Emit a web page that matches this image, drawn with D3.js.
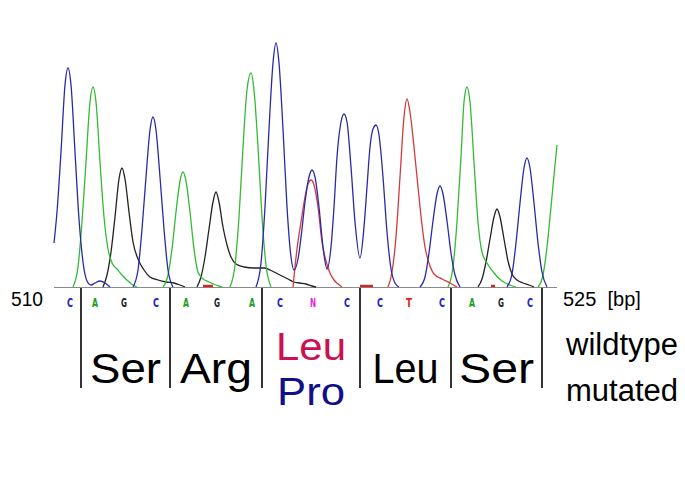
<!DOCTYPE html>
<html>
<head>
<meta charset="utf-8">
<script src="https://cdn.jsdelivr.net/npm/d3@7"></script>
<style>
  html, body { margin: 0; padding: 0; background: #fff; }
</style>
</head>
<body>
<script>
// sequencing trace around position 510-525, wildtype vs mutated codon

// trace channels: [scan, signal] points, one array per peak group
const traceC = [
  [[0,44],[3,75],[7,135],[11,202],[14,219],[17,202],[21,135],[25,68],[29,25],[33,6],[37,2],[41,4],[46,6],[51,4],[56,0]],
  [[79,0],[84,17],[88,58],[92,110],[96,157],[99,170],[102,157],[106,110],[110,58],[114,17],[119,0]],
  [[202,0],[207,24],[211,80],[215,158],[219,224],[222,244],[225,224],[229,158],[233,80],[237,30],[240,17],
   [244,28],[248,58],[251,85],[255,110],[258,117],[261,110],[265,80],[269,40],[273,18],
   [277,40],[280,80],[283,130],[287,165],[290,173],[293,165],[297,120],[301,65],[306,29],
   [310,60],[313,100],[316,140],[319,158],[322,162],[325,152],[329,110],[333,55],[337,18],[341,4],[345,0]],
  [[366,0],[371,10],[375,34],[379,66],[383,93],[386,101],[389,93],[393,66],[397,34],[401,12],[406,0]],
  [[453,0],[458,13],[462,44],[466,84],[470,119],[473,129],[476,119],[480,84],[484,44],[488,15],[493,0]]
];
const traceA = [
  [[19,0],[24,20],[28,65],[32,125],[36,185],[39,200],[42,185],[46,125],[50,70],[54,38],[58,24],[63,18],[68,12],[74,6],[79,2],[83,0]],
  [[109,0],[114,12],[118,38],[122,75],[126,106],[129,115],[132,106],[136,75],[140,38],[144,15],[148,9],[155,5],[162,2],[168,0]],
  [[176,0],[181,22],[185,70],[189,140],[193,197],[197,214],[200,197],[204,140],[208,70],[212,22],[217,0]],
  [[394,0],[399,20],[403,65],[407,130],[410,185],[413,200],[416,185],[420,125],[424,65],[428,35],[433,24],[440,14],[448,6],[456,2],[462,0]],
  [[484,0],[489,12],[493,40],[497,80],[501,122],[503,142]]
];
const traceG = [
  [[49,0],[53,12],[57,35],[61,70],[65,108],[68,119],[71,108],[75,75],[79,45],[84,28],[90,17],[96,10],[104,7],[112,5],[120,4],[126,2],[131,0]],
  [[143,0],[147,10],[151,30],[155,58],[159,85],[162,95],[165,85],[169,60],[173,42],[177,30],[182,23],[190,20],[200,19],[210,19],[216,17],
   [222,14],[228,11],[234,8],[240,5],[246,4],[252,3],[258,1],[262,0]],
  [[424,0],[428,8],[432,25],[436,48],[440,70],[443,78],[446,70],[450,48],[454,26],[458,13],[463,7],[469,4],[475,2],[480,0]]
];
const traceT = [
  [[239,0],[243,38],[247,65],[251,90],[254,103],[257,107],[260,102],[264,80],[268,45],[272,26],[276,14],[280,7],[284,3],[288,0]],
  [[334,0],[338,15],[342,50],[346,110],[350,170],[353,188],[356,175],[360,140],[364,100],[368,62],[371,40],[375,24],[380,13],[388,8],[396,4],[403,0]]
];
// red noise blips lying on the baseline
const noiseT = [[[149,1],[159,1]], [[306,1],[319,1]], [[437,1],[441,1]]];

// base calls
const bases = ["C","A","G","C","A","G","A","C","N","C","C","T","C","A","G","C"];
const baseScan = [16,41,70,102,132,163,198,226,259,293,326,355,388,418,447,476];
const baseColor = {C: "#2222cc", A: "#18a018", G: "#222222", T: "#dd2222", N: "#e020e0"};

// codon boundaries and amino acids
const codonBounds = [27, 116, 208, 306, 397, 488];
const aminoWild = ["Ser", "Arg", "Leu", "Leu", "Ser"];
const aminoMut = [null, null, "Pro", null, null];
const aminoWidth = [71, 72, 70, 66, 75];

const startPos = "510";
const endPos = "525  [bp]";

const width = 685;
const height = 484;

const svg = d3.select("body")
    .append("svg")
    .attr("width", width)
    .attr("height", height)
    .style("display", "block");

svg.append("rect").attr("width", width).attr("height", height).attr("fill", "#fff");

const xScale = d3.scaleLinear()
    .domain([0, 505])
    .range([54, 559]);

const yScale = d3.scaleLinear()
    .domain([0, 250])
    .range([287, 37]);

const line = d3.line()
    .x(d => xScale(d[0]))
    .y(d => yScale(d[1]))
    .curve(d3.curveMonotoneX);

// baseline
svg.append("line")
    .attr("x1", xScale(0)).attr("x2", xScale(503))
    .attr("y1", yScale(0) + 0.5).attr("y2", yScale(0) + 0.5)
    .attr("stroke", "#8a8a8a")
    .attr("stroke-width", 1);

function drawTrace(segs, color, w) {
    svg.append("g").selectAll("path")
        .data(segs)
        .join("path")
        .attr("fill", "none")
        .attr("stroke", color)
        .attr("stroke-width", w)
        .attr("stroke-linejoin", "round")
        .attr("d", line);
}

drawTrace(noiseT, "#cc2a2a", 2.5);
drawTrace(traceG, "#222222", 1.3);
drawTrace(traceA, "#33bb33", 1.3);
drawTrace(traceT, "#d43a3a", 1.3);
drawTrace(traceC, "#2a2aa8", 1.3);

// base letters
svg.append("g").selectAll("text")
    .data(bases)
    .join("text")
    .attr("x", (d, i) => xScale(baseScan[i]))
    .attr("y", 307)
    .attr("text-anchor", "middle")
    .attr("font-family", "'DejaVu Sans Condensed', 'DejaVu Sans', sans-serif")
    .attr("font-weight", "bold")
    .attr("font-size", 13)
    .attr("textLength", 6)
    .attr("lengthAdjust", "spacingAndGlyphs")
    .attr("fill", d => baseColor[d])
    .text(d => d);

// codon separators
svg.append("g").selectAll("line")
    .data(codonBounds)
    .join("line")
    .attr("x1", d => xScale(d)).attr("x2", d => xScale(d))
    .attr("y1", 288).attr("y2", 388)
    .attr("stroke", "#111")
    .attr("stroke-width", 1.7);

// amino acids
const aaMid = aminoWild.map((d, i) => (codonBounds[i] + codonBounds[i + 1]) / 2);

svg.append("g").selectAll("text")
    .data(aminoWild)
    .join("text")
    .attr("x", (d, i) => xScale(aaMid[i]))
    .attr("y", (d, i) => aminoMut[i] ? 360 : 383)
    .attr("text-anchor", "middle")
    .attr("font-family", "'Liberation Sans', Arial, sans-serif")
    .attr("font-size", (d, i) => aminoMut[i] ? 39 : 42)
    .attr("textLength", (d, i) => aminoWidth[i])
    .attr("lengthAdjust", "spacingAndGlyphs")
    .attr("fill", (d, i) => aminoMut[i] ? "#cc1050" : "#000")
    .text(d => d);

svg.append("g").selectAll("text")
    .data(aminoMut.map((d, i) => ({d, i})).filter(o => o.d))
    .join("text")
    .attr("x", o => xScale(aaMid[o.i]))
    .attr("y", 405)
    .attr("text-anchor", "middle")
    .attr("font-family", "'Liberation Sans', Arial, sans-serif")
    .attr("font-size", 39)
    .attr("textLength", 68)
    .attr("lengthAdjust", "spacingAndGlyphs")
    .attr("fill", "#10108c")
    .text(o => o.d);

// position labels
svg.append("text")
    .attr("x", 11).attr("y", 306)
    .attr("font-family", "'Liberation Sans', Arial, sans-serif")
    .attr("font-size", 20)
    .attr("textLength", 32)
    .attr("lengthAdjust", "spacingAndGlyphs")
    .text(startPos);

svg.append("text")
    .attr("x", 563).attr("y", 306)
    .attr("font-family", "'Liberation Sans', Arial, sans-serif")
    .attr("font-size", 20)
    .style("white-space", "pre")
    .text(endPos);

// legend words
svg.append("text")
    .attr("x", 566).attr("y", 355)
    .attr("font-family", "'Liberation Sans', Arial, sans-serif")
    .attr("font-size", 31)
    .text("wildtype");

svg.append("text")
    .attr("x", 566).attr("y", 401)
    .attr("font-family", "'Liberation Sans', Arial, sans-serif")
    .attr("font-size", 31)
    .text("mutated");
</script>
</body>
</html>
